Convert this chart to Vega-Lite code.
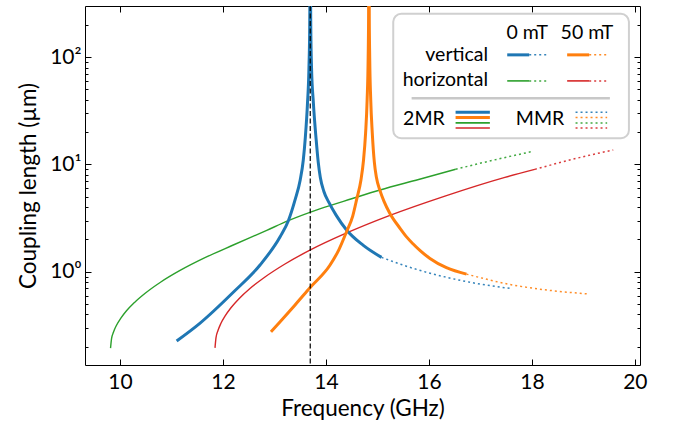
{
  "$schema": "https://vega.github.io/schema/vega-lite/v6.json",
  "width": 555,
  "height": 359,
  "autosize": {"type": "none"},
  "padding": {"left": 85, "top": 6, "right": 43, "bottom": 58},
  "background": "white",
  "config": {
    "font": "Lato",
    "view": {"stroke": "black", "strokeWidth": 1},
    "axis": {"grid": false, "domain": false, "tickColor": "black", "tickWidth": 1, "labelColor": "black", "titleColor": "black", "labelFont": "Lato", "titleFont": "Lato", "labelFontSize": 21, "titleFontSize": 22.5, "titleFontWeight": "normal", "labelOverlap": false}
  },
  "datasets": {
    "curves": [
      {"series": "horizontal 0 mT", "mode": "2MR", "branch": "h0", "freq": 9.816, "length": 0.194},
      {"series": "horizontal 0 mT", "mode": "2MR", "branch": "h0", "freq": 9.835, "length": 0.237},
      {"series": "horizontal 0 mT", "mode": "2MR", "branch": "h0", "freq": 9.874, "length": 0.274},
      {"series": "horizontal 0 mT", "mode": "2MR", "branch": "h0", "freq": 9.932, "length": 0.317},
      {"series": "horizontal 0 mT", "mode": "2MR", "branch": "h0", "freq": 10.01, "length": 0.365},
      {"series": "horizontal 0 mT", "mode": "2MR", "branch": "h0", "freq": 10.126, "length": 0.432},
      {"series": "horizontal 0 mT", "mode": "2MR", "branch": "h0", "freq": 10.282, "length": 0.517},
      {"series": "horizontal 0 mT", "mode": "2MR", "branch": "h0", "freq": 10.495, "length": 0.633},
      {"series": "horizontal 0 mT", "mode": "2MR", "branch": "h0", "freq": 10.786, "length": 0.798},
      {"series": "horizontal 0 mT", "mode": "2MR", "branch": "h0", "freq": 11.175, "length": 1.033},
      {"series": "horizontal 0 mT", "mode": "2MR", "branch": "h0", "freq": 11.66, "length": 1.359},
      {"series": "horizontal 0 mT", "mode": "2MR", "branch": "h0", "freq": 12.2, "length": 1.774},
      {"series": "horizontal 0 mT", "mode": "2MR", "branch": "h0", "freq": 12.85, "length": 2.43},
      {"series": "horizontal 0 mT", "mode": "2MR", "branch": "h0", "freq": 13.27, "length": 2.99},
      {"series": "horizontal 0 mT", "mode": "2MR", "branch": "h0", "freq": 13.88, "length": 3.85},
      {"series": "horizontal 0 mT", "mode": "2MR", "branch": "h0", "freq": 14.5, "length": 4.79},
      {"series": "horizontal 0 mT", "mode": "2MR", "branch": "h0", "freq": 15.05, "length": 5.78},
      {"series": "horizontal 0 mT", "mode": "2MR", "branch": "h0", "freq": 15.8, "length": 7.24},
      {"series": "horizontal 0 mT", "mode": "2MR", "branch": "h0", "freq": 16.52, "length": 9.02},
      {"series": "horizontal 0 mT", "mode": "MMR", "branch": "h0", "freq": 16.52, "length": 9.02},
      {"series": "horizontal 0 mT", "mode": "MMR", "branch": "h0", "freq": 17.25, "length": 10.96},
      {"series": "horizontal 0 mT", "mode": "MMR", "branch": "h0", "freq": 17.99, "length": 13.15},

      {"series": "horizontal 50 mT", "mode": "2MR", "branch": "h50", "freq": 11.845, "length": 0.195},
      {"series": "horizontal 50 mT", "mode": "2MR", "branch": "h50", "freq": 11.864, "length": 0.242},
      {"series": "horizontal 50 mT", "mode": "2MR", "branch": "h50", "freq": 11.903, "length": 0.283},
      {"series": "horizontal 50 mT", "mode": "2MR", "branch": "h50", "freq": 11.961, "length": 0.331},
      {"series": "horizontal 50 mT", "mode": "2MR", "branch": "h50", "freq": 12.039, "length": 0.385},
      {"series": "horizontal 50 mT", "mode": "2MR", "branch": "h50", "freq": 12.155, "length": 0.461},
      {"series": "horizontal 50 mT", "mode": "2MR", "branch": "h50", "freq": 12.311, "length": 0.56},
      {"series": "horizontal 50 mT", "mode": "2MR", "branch": "h50", "freq": 12.524, "length": 0.697},
      {"series": "horizontal 50 mT", "mode": "2MR", "branch": "h50", "freq": 12.816, "length": 0.893},
      {"series": "horizontal 50 mT", "mode": "2MR", "branch": "h50", "freq": 13.204, "length": 1.18},
      {"series": "horizontal 50 mT", "mode": "2MR", "branch": "h50", "freq": 13.689, "length": 1.588},
      {"series": "horizontal 50 mT", "mode": "2MR", "branch": "h50", "freq": 14.369, "length": 2.261},
      {"series": "horizontal 50 mT", "mode": "2MR", "branch": "h50", "freq": 15.243, "length": 3.35},
      {"series": "horizontal 50 mT", "mode": "2MR", "branch": "h50", "freq": 16.311, "length": 5.07},
      {"series": "horizontal 50 mT", "mode": "2MR", "branch": "h50", "freq": 17.476, "length": 7.58},
      {"series": "horizontal 50 mT", "mode": "2MR", "branch": "h50", "freq": 18.058, "length": 9.0},
      {"series": "horizontal 50 mT", "mode": "MMR", "branch": "h50", "freq": 18.058, "length": 9.0},
      {"series": "horizontal 50 mT", "mode": "MMR", "branch": "h50", "freq": 18.8, "length": 11.2},
      {"series": "horizontal 50 mT", "mode": "MMR", "branch": "h50", "freq": 19.58, "length": 13.65},

      {"series": "vertical 0 mT", "mode": "2MR", "branch": "v0a", "freq": 11.1, "length": 0.226},
      {"series": "vertical 0 mT", "mode": "2MR", "branch": "v0a", "freq": 11.55, "length": 0.33},
      {"series": "vertical 0 mT", "mode": "2MR", "branch": "v0a", "freq": 12.21, "length": 0.65},
      {"series": "vertical 0 mT", "mode": "2MR", "branch": "v0a", "freq": 12.72, "length": 1.155},
      {"series": "vertical 0 mT", "mode": "2MR", "branch": "v0a", "freq": 13.11, "length": 2.12},
      {"series": "vertical 0 mT", "mode": "2MR", "branch": "v0a", "freq": 13.27, "length": 2.99},
      {"series": "vertical 0 mT", "mode": "2MR", "branch": "v0a", "freq": 13.4, "length": 4.67},
      {"series": "vertical 0 mT", "mode": "2MR", "branch": "v0a", "freq": 13.5, "length": 7.17},
      {"series": "vertical 0 mT", "mode": "2MR", "branch": "v0a", "freq": 13.56, "length": 11},
      {"series": "vertical 0 mT", "mode": "2MR", "branch": "v0a", "freq": 13.6, "length": 18},
      {"series": "vertical 0 mT", "mode": "2MR", "branch": "v0a", "freq": 13.64, "length": 36},
      {"series": "vertical 0 mT", "mode": "2MR", "branch": "v0a", "freq": 13.67, "length": 80},
      {"series": "vertical 0 mT", "mode": "2MR", "branch": "v0a", "freq": 13.685, "length": 200},
      {"series": "vertical 0 mT", "mode": "2MR", "branch": "v0a", "freq": 13.692, "length": 600},
      {"series": "vertical 0 mT", "mode": "2MR", "branch": "v0b", "freq": 13.698, "length": 600},
      {"series": "vertical 0 mT", "mode": "2MR", "branch": "v0b", "freq": 13.705, "length": 200},
      {"series": "vertical 0 mT", "mode": "2MR", "branch": "v0b", "freq": 13.72, "length": 80},
      {"series": "vertical 0 mT", "mode": "2MR", "branch": "v0b", "freq": 13.755, "length": 38},
      {"series": "vertical 0 mT", "mode": "2MR", "branch": "v0b", "freq": 13.81, "length": 17},
      {"series": "vertical 0 mT", "mode": "2MR", "branch": "v0b", "freq": 13.85, "length": 10.5},
      {"series": "vertical 0 mT", "mode": "2MR", "branch": "v0b", "freq": 13.89, "length": 7.6},
      {"series": "vertical 0 mT", "mode": "2MR", "branch": "v0b", "freq": 13.96, "length": 5.6},
      {"series": "vertical 0 mT", "mode": "2MR", "branch": "v0b", "freq": 14.06, "length": 4.4},
      {"series": "vertical 0 mT", "mode": "2MR", "branch": "v0b", "freq": 14.2, "length": 3.35},
      {"series": "vertical 0 mT", "mode": "2MR", "branch": "v0b", "freq": 14.4, "length": 2.45},
      {"series": "vertical 0 mT", "mode": "2MR", "branch": "v0b", "freq": 14.72, "length": 1.77},
      {"series": "vertical 0 mT", "mode": "2MR", "branch": "v0b", "freq": 15.08, "length": 1.36},
      {"series": "vertical 0 mT", "mode": "MMR", "branch": "v0b", "freq": 15.08, "length": 1.36},
      {"series": "vertical 0 mT", "mode": "MMR", "branch": "v0b", "freq": 15.69, "length": 1.076},
      {"series": "vertical 0 mT", "mode": "MMR", "branch": "v0b", "freq": 16.34, "length": 0.887},
      {"series": "vertical 0 mT", "mode": "MMR", "branch": "v0b", "freq": 16.99, "length": 0.768},
      {"series": "vertical 0 mT", "mode": "MMR", "branch": "v0b", "freq": 17.57, "length": 0.7},

      {"series": "vertical 50 mT", "mode": "2MR", "branch": "v50a", "freq": 12.93, "length": 0.275},
      {"series": "vertical 50 mT", "mode": "2MR", "branch": "v50a", "freq": 13.11, "length": 0.342},
      {"series": "vertical 50 mT", "mode": "2MR", "branch": "v50a", "freq": 13.4, "length": 0.49},
      {"series": "vertical 50 mT", "mode": "2MR", "branch": "v50a", "freq": 13.69, "length": 0.71},
      {"series": "vertical 50 mT", "mode": "2MR", "branch": "v50a", "freq": 14.08, "length": 1.155},
      {"series": "vertical 50 mT", "mode": "2MR", "branch": "v50a", "freq": 14.25, "length": 1.6},
      {"series": "vertical 50 mT", "mode": "2MR", "branch": "v50a", "freq": 14.4, "length": 2.36},
      {"series": "vertical 50 mT", "mode": "2MR", "branch": "v50a", "freq": 14.52, "length": 3.3},
      {"series": "vertical 50 mT", "mode": "2MR", "branch": "v50a", "freq": 14.6, "length": 4.8},
      {"series": "vertical 50 mT", "mode": "2MR", "branch": "v50a", "freq": 14.68, "length": 7.17},
      {"series": "vertical 50 mT", "mode": "2MR", "branch": "v50a", "freq": 14.73, "length": 11},
      {"series": "vertical 50 mT", "mode": "2MR", "branch": "v50a", "freq": 14.77, "length": 19.6},
      {"series": "vertical 50 mT", "mode": "2MR", "branch": "v50a", "freq": 14.8, "length": 40},
      {"series": "vertical 50 mT", "mode": "2MR", "branch": "v50a", "freq": 14.82, "length": 100},
      {"series": "vertical 50 mT", "mode": "2MR", "branch": "v50a", "freq": 14.83, "length": 300},
      {"series": "vertical 50 mT", "mode": "2MR", "branch": "v50a", "freq": 14.833, "length": 800},
      {"series": "vertical 50 mT", "mode": "2MR", "branch": "v50b", "freq": 14.837, "length": 800},
      {"series": "vertical 50 mT", "mode": "2MR", "branch": "v50b", "freq": 14.84, "length": 300},
      {"series": "vertical 50 mT", "mode": "2MR", "branch": "v50b", "freq": 14.85, "length": 100},
      {"series": "vertical 50 mT", "mode": "2MR", "branch": "v50b", "freq": 14.87, "length": 40},
      {"series": "vertical 50 mT", "mode": "2MR", "branch": "v50b", "freq": 14.9, "length": 19.6},
      {"series": "vertical 50 mT", "mode": "2MR", "branch": "v50b", "freq": 14.94, "length": 10.5},
      {"series": "vertical 50 mT", "mode": "2MR", "branch": "v50b", "freq": 14.98, "length": 7.6},
      {"series": "vertical 50 mT", "mode": "2MR", "branch": "v50b", "freq": 15.05, "length": 5.7},
      {"series": "vertical 50 mT", "mode": "2MR", "branch": "v50b", "freq": 15.13, "length": 4.5},
      {"series": "vertical 50 mT", "mode": "2MR", "branch": "v50b", "freq": 15.24, "length": 3.51},
      {"series": "vertical 50 mT", "mode": "2MR", "branch": "v50b", "freq": 15.45, "length": 2.5},
      {"series": "vertical 50 mT", "mode": "2MR", "branch": "v50b", "freq": 15.57, "length": 2.1},
      {"series": "vertical 50 mT", "mode": "2MR", "branch": "v50b", "freq": 15.69, "length": 1.82},
      {"series": "vertical 50 mT", "mode": "2MR", "branch": "v50b", "freq": 15.83, "length": 1.57},
      {"series": "vertical 50 mT", "mode": "2MR", "branch": "v50b", "freq": 16.02, "length": 1.33},
      {"series": "vertical 50 mT", "mode": "2MR", "branch": "v50b", "freq": 16.34, "length": 1.09},
      {"series": "vertical 50 mT", "mode": "2MR", "branch": "v50b", "freq": 16.73, "length": 0.95},
      {"series": "vertical 50 mT", "mode": "MMR", "branch": "v50b", "freq": 16.73, "length": 0.95},
      {"series": "vertical 50 mT", "mode": "MMR", "branch": "v50b", "freq": 17.64, "length": 0.75},
      {"series": "vertical 50 mT", "mode": "MMR", "branch": "v50b", "freq": 18.29, "length": 0.675},
      {"series": "vertical 50 mT", "mode": "MMR", "branch": "v50b", "freq": 19.11, "length": 0.62}
    ],
    "legendLines": [
      {"series": "vertical 0 mT", "mode": "2MR", "branch": "a1", "freq": 17.521, "length": 105.1},
      {"series": "vertical 0 mT", "mode": "2MR", "branch": "a1", "freq": 17.948, "length": 105.1},
      {"series": "vertical 0 mT", "mode": "MMR", "branch": "a2", "freq": 17.948, "length": 105.1},
      {"series": "vertical 0 mT", "mode": "MMR", "branch": "a2", "freq": 18.297, "length": 105.1},
      {"series": "vertical 50 mT", "mode": "2MR", "branch": "b1", "freq": 18.685, "length": 105.1},
      {"series": "vertical 50 mT", "mode": "2MR", "branch": "b1", "freq": 19.113, "length": 105.1},
      {"series": "vertical 50 mT", "mode": "MMR", "branch": "b2", "freq": 19.113, "length": 105.1},
      {"series": "vertical 50 mT", "mode": "MMR", "branch": "b2", "freq": 19.482, "length": 105.1},
      {"series": "horizontal 0 mT", "mode": "2MR", "branch": "c1", "freq": 17.521, "length": 60.1},
      {"series": "horizontal 0 mT", "mode": "2MR", "branch": "c1", "freq": 17.948, "length": 60.1},
      {"series": "horizontal 0 mT", "mode": "MMR", "branch": "c2", "freq": 17.948, "length": 60.1},
      {"series": "horizontal 0 mT", "mode": "MMR", "branch": "c2", "freq": 18.297, "length": 60.1},
      {"series": "horizontal 50 mT", "mode": "2MR", "branch": "d1", "freq": 18.685, "length": 60.1},
      {"series": "horizontal 50 mT", "mode": "2MR", "branch": "d1", "freq": 19.113, "length": 60.1},
      {"series": "horizontal 50 mT", "mode": "MMR", "branch": "d2", "freq": 19.113, "length": 60.1},
      {"series": "horizontal 50 mT", "mode": "MMR", "branch": "d2", "freq": 19.482, "length": 60.1},
      {"series": "vertical 0 mT", "mode": "2MR", "branch": "e1", "freq": 16.518, "length": 30.69},
      {"series": "vertical 0 mT", "mode": "2MR", "branch": "e1", "freq": 17.184, "length": 30.69},
      {"series": "vertical 50 mT", "mode": "2MR", "branch": "e2", "freq": 16.518, "length": 27.33},
      {"series": "vertical 50 mT", "mode": "2MR", "branch": "e2", "freq": 17.184, "length": 27.33},
      {"series": "horizontal 0 mT", "mode": "2MR", "branch": "e3", "freq": 16.518, "length": 24.39},
      {"series": "horizontal 0 mT", "mode": "2MR", "branch": "e3", "freq": 17.184, "length": 24.39},
      {"series": "horizontal 50 mT", "mode": "2MR", "branch": "e4", "freq": 16.518, "length": 21.9},
      {"series": "horizontal 50 mT", "mode": "2MR", "branch": "e4", "freq": 17.184, "length": 21.9},
      {"series": "vertical 0 mT", "mode": "MMR", "branch": "f1", "freq": 18.848, "length": 30.69},
      {"series": "vertical 0 mT", "mode": "MMR", "branch": "f1", "freq": 19.462, "length": 30.69},
      {"series": "vertical 50 mT", "mode": "MMR", "branch": "f2", "freq": 18.848, "length": 27.33},
      {"series": "vertical 50 mT", "mode": "MMR", "branch": "f2", "freq": 19.462, "length": 27.33},
      {"series": "horizontal 0 mT", "mode": "MMR", "branch": "f3", "freq": 18.848, "length": 24.39},
      {"series": "horizontal 0 mT", "mode": "MMR", "branch": "f3", "freq": 19.462, "length": 24.39},
      {"series": "horizontal 50 mT", "mode": "MMR", "branch": "f4", "freq": 18.848, "length": 21.9},
      {"series": "horizontal 50 mT", "mode": "MMR", "branch": "f4", "freq": 19.462, "length": 21.9}
    ],
    "legendText": [
      {"label": "0 mT", "role": "head", "freq": 17.91, "length": 147.2},
      {"label": "50 mT", "role": "head", "freq": 19.07, "length": 147.2},
      {"label": "vertical", "role": "row", "freq": 17.15, "length": 92.7},
      {"label": "horizontal", "role": "row", "freq": 17.15, "length": 54.0},
      {"label": "2MR", "role": "head", "freq": 15.903, "length": 23.36},
      {"label": "MMR", "role": "head", "freq": 18.159, "length": 23.36}
    ],
    "legendBox": [{"freq": 15.307, "freq2": 19.885, "length": 253.5, "length2": 17.55}],
    "legendSep": [{"freq": 15.664, "freq2": 19.515, "length": 41.45}],
    "marker": [{"freq": 13.695}]
  },
  "layer": [
    {
      "data": {"name": "legendBox"},
      "mark": {"type": "rect", "fill": "white", "stroke": "#d0d0d0", "strokeWidth": 2, "cornerRadius": 8},
      "encoding": {
        "x": {"field": "freq", "type": "quantitative", "scale": {"domain": [9.32, 20.1], "nice": false, "zero": false}, "axis": null},
        "x2": {"field": "freq2"},
        "y": {"field": "length", "type": "quantitative", "scale": {"type": "log", "domain": [0.135, 300], "nice": false}, "axis": null},
        "y2": {"field": "length2"}
      }
    },
    {
      "data": {"name": "curves"},
      "transform": [{"filter": "datum.mode === '2MR' && indexof(datum.series, 'horizontal') === 0"}],
      "mark": {"type": "line", "clip": true, "strokeCap": "butt", "interpolate": "monotone", "strokeWidth": 1.4},
      "encoding": {
        "x": {"field": "freq", "type": "quantitative", "scale": {"domain": [9.32, 20.1], "nice": false, "zero": false},
          "axis": {"orient": "bottom", "title": "Frequency (GHz)", "values": [10, 12, 14, 16, 18, 20], "tickSize": -6, "labelPadding": 12, "titlePadding": 5}},
        "y": {"field": "length", "type": "quantitative", "scale": {"type": "log", "domain": [0.135, 300], "nice": false},
          "axis": {"orient": "left", "title": "Coupling length (µm)", "values": [0.2, 0.3, 0.4, 0.5, 0.6, 0.7, 0.8, 0.9, 1, 2, 3, 4, 5, 6, 7, 8, 9, 10, 20, 30, 40, 50, 60, 70, 80, 90, 100, 200],
            "tickSize": {"condition": {"test": "datum.value === 1 || datum.value === 10 || datum.value === 100", "value": -6}, "value": -3},
            "labelExpr": "datum.value === 100 ? '10²' : datum.value === 10 ? '10¹' : datum.value === 1 ? '10⁰' : ''",
            "labelPadding": 10, "titlePadding": 9}},
        "detail": {"field": "branch"},
        "color": {"field": "series", "type": "nominal", "scale": {"domain": ["vertical 0 mT", "vertical 50 mT", "horizontal 0 mT", "horizontal 50 mT"], "range": ["#1f77b4", "#ff7f0e", "#2ca02c", "#d62728"]}, "legend": null}
      }
    },
    {
      "data": {"name": "curves"},
      "transform": [{"filter": "datum.mode === 'MMR'"}],
      "mark": {"type": "line", "clip": true, "strokeWidth": 1.5, "strokeDash": [2, 3], "opacity": 0.9, "interpolate": "monotone"},
      "encoding": {
        "x": {"field": "freq", "type": "quantitative", "scale": {"domain": [9.32, 20.1], "nice": false, "zero": false},
          "axis": {"orient": "top", "title": null, "labels": false, "values": [10, 12, 14, 16, 18, 20], "tickSize": -6}},
        "y": {"field": "length", "type": "quantitative", "scale": {"type": "log", "domain": [0.135, 300], "nice": false},
          "axis": {"orient": "right", "title": null, "labels": false, "values": [0.2, 0.3, 0.4, 0.5, 0.6, 0.7, 0.8, 0.9, 1, 2, 3, 4, 5, 6, 7, 8, 9, 10, 20, 30, 40, 50, 60, 70, 80, 90, 100, 200],
            "tickSize": {"condition": {"test": "datum.value === 1 || datum.value === 10 || datum.value === 100", "value": -6}, "value": -3}}},
        "detail": {"field": "branch"},
        "color": {"field": "series", "type": "nominal", "scale": {"domain": ["vertical 0 mT", "vertical 50 mT", "horizontal 0 mT", "horizontal 50 mT"], "range": ["#1f77b4", "#ff7f0e", "#2ca02c", "#d62728"]}, "legend": null}
      }
    },
    {
      "data": {"name": "curves"},
      "transform": [{"filter": "datum.mode === '2MR' && indexof(datum.series, 'vertical') === 0"}],
      "mark": {"type": "line", "clip": true, "strokeCap": "butt", "interpolate": "monotone", "strokeWidth": 3},
      "encoding": {
        "x": {"field": "freq", "type": "quantitative", "scale": {"domain": [9.32, 20.1], "nice": false, "zero": false}, "axis": null},
        "y": {"field": "length", "type": "quantitative", "scale": {"type": "log", "domain": [0.135, 300], "nice": false}, "axis": null},
        "detail": {"field": "branch"},
        "color": {"field": "series", "type": "nominal", "scale": {"domain": ["vertical 0 mT", "vertical 50 mT", "horizontal 0 mT", "horizontal 50 mT"], "range": ["#1f77b4", "#ff7f0e", "#2ca02c", "#d62728"]}, "legend": null}
      }
    },
    {
      "data": {"name": "marker"},
      "mark": {"type": "rule", "color": "black", "strokeWidth": 1.2, "strokeDash": [5, 2.5]},
      "encoding": {
        "x": {"field": "freq", "type": "quantitative", "scale": {"domain": [9.32, 20.1], "nice": false, "zero": false}, "axis": null}
      }
    },
    {
      "data": {"name": "legendSep"},
      "mark": {"type": "rule", "color": "#c8c8c8", "strokeWidth": 2.5},
      "encoding": {
        "x": {"field": "freq", "type": "quantitative", "scale": {"domain": [9.32, 20.1], "nice": false, "zero": false}, "axis": null},
        "x2": {"field": "freq2"},
        "y": {"field": "length", "type": "quantitative", "scale": {"type": "log", "domain": [0.135, 300], "nice": false}, "axis": null}
      }
    },
    {
      "data": {"name": "legendLines"},
      "transform": [{"filter": "datum.mode === '2MR' && indexof(datum.series, 'vertical') === 0"}],
      "mark": {"type": "line", "strokeCap": "butt", "strokeWidth": 3},
      "encoding": {
        "x": {"field": "freq", "type": "quantitative", "scale": {"domain": [9.32, 20.1], "nice": false, "zero": false}, "axis": null},
        "y": {"field": "length", "type": "quantitative", "scale": {"type": "log", "domain": [0.135, 300], "nice": false}, "axis": null},
        "detail": {"field": "branch"},
        "color": {"field": "series", "type": "nominal", "scale": {"domain": ["vertical 0 mT", "vertical 50 mT", "horizontal 0 mT", "horizontal 50 mT"], "range": ["#1f77b4", "#ff7f0e", "#2ca02c", "#d62728"]}, "legend": null}
      }
    },
    {
      "data": {"name": "legendLines"},
      "transform": [{"filter": "datum.mode === '2MR' && indexof(datum.series, 'horizontal') === 0"}],
      "mark": {"type": "line", "strokeCap": "butt", "strokeWidth": 1.6},
      "encoding": {
        "x": {"field": "freq", "type": "quantitative", "scale": {"domain": [9.32, 20.1], "nice": false, "zero": false}, "axis": null},
        "y": {"field": "length", "type": "quantitative", "scale": {"type": "log", "domain": [0.135, 300], "nice": false}, "axis": null},
        "detail": {"field": "branch"},
        "color": {"field": "series", "type": "nominal", "scale": {"domain": ["vertical 0 mT", "vertical 50 mT", "horizontal 0 mT", "horizontal 50 mT"], "range": ["#1f77b4", "#ff7f0e", "#2ca02c", "#d62728"]}, "legend": null}
      }
    },
    {
      "data": {"name": "legendLines"},
      "transform": [{"filter": "datum.mode === 'MMR'"}],
      "mark": {"type": "line", "strokeWidth": 1.5, "strokeDash": [2, 3], "opacity": 0.9},
      "encoding": {
        "x": {"field": "freq", "type": "quantitative", "scale": {"domain": [9.32, 20.1], "nice": false, "zero": false}, "axis": null},
        "y": {"field": "length", "type": "quantitative", "scale": {"type": "log", "domain": [0.135, 300], "nice": false}, "axis": null},
        "detail": {"field": "branch"},
        "color": {"field": "series", "type": "nominal", "scale": {"domain": ["vertical 0 mT", "vertical 50 mT", "horizontal 0 mT", "horizontal 50 mT"], "range": ["#1f77b4", "#ff7f0e", "#2ca02c", "#d62728"]}, "legend": null}
      }
    },
    {
      "data": {"name": "legendText"},
      "transform": [{"filter": "datum.role === 'head'"}],
      "mark": {"type": "text", "font": "Lato", "fontSize": 19.5, "color": "black", "align": "center", "baseline": "alphabetic"},
      "encoding": {
        "x": {"field": "freq", "type": "quantitative", "scale": {"domain": [9.32, 20.1], "nice": false, "zero": false}, "axis": null},
        "y": {"field": "length", "type": "quantitative", "scale": {"type": "log", "domain": [0.135, 300], "nice": false}, "axis": null},
        "text": {"field": "label"}
      }
    },
    {
      "data": {"name": "legendText"},
      "transform": [{"filter": "datum.role === 'row'"}],
      "mark": {"type": "text", "font": "Lato", "fontSize": 19.5, "color": "black", "align": "right", "baseline": "alphabetic"},
      "encoding": {
        "x": {"field": "freq", "type": "quantitative", "scale": {"domain": [9.32, 20.1], "nice": false, "zero": false}, "axis": null},
        "y": {"field": "length", "type": "quantitative", "scale": {"type": "log", "domain": [0.135, 300], "nice": false}, "axis": null},
        "text": {"field": "label"}
      }
    }
  ],
  "resolve": {"axis": {"x": "independent", "y": "independent"}}
}
